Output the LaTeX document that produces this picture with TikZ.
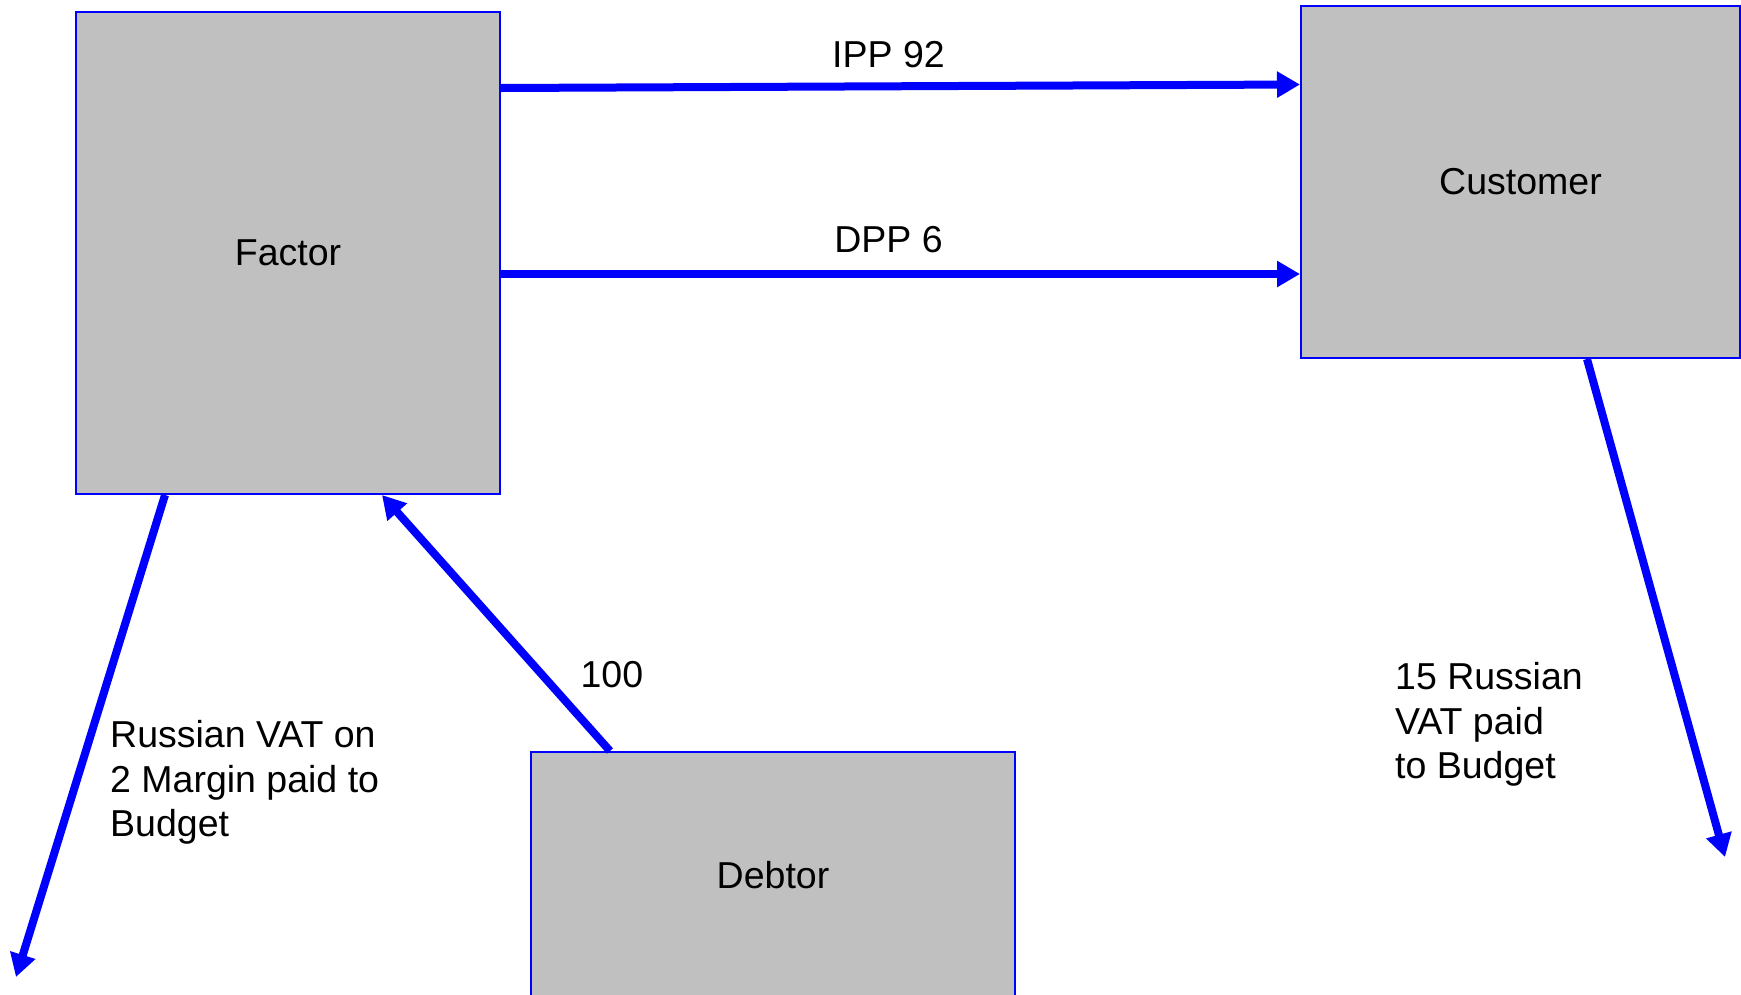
\documentclass[tikz,border=0pt]{standalone}
\usepackage{fontspec}
\setmainfont{Liberation Sans}
\usetikzlibrary{arrows.meta,positioning}
\definecolor{FlowBlue}{HTML}{0000FF}
\definecolor{BoxGrey}{HTML}{C0C0C0}
\tikzset{
  party/.style={draw=FlowBlue,fill=BoxGrey,line width=2pt,rectangle,inner sep=0pt,
    font=\fontsize{37.5}{44.7}\selectfont},
  flow/.style={draw=FlowBlue,line width=8pt,-{Triangle[length=23pt,width=25pt]}},
  flowlabel/.style={inner sep=0pt,font=\fontsize{37.5}{44.7}\selectfont}
}

\begin{document}
\begin{tikzpicture}[x=1pt,y=-1pt]
  \useasboundingbox (0,0) rectangle (1741,994);

  \node[party,minimum width=424pt,minimum height=482pt] (factor) at (288,253) {Factor};
  \node[party,minimum width=439pt,minimum height=352pt] (customer) at (1520.5,182) {Customer};
  \node[party,minimum width=484pt,minimum height=246pt] (debtor) at (773,875) {Debtor};

  \coordinate (factorbudget) at (16,977);
  \coordinate (customerbudget) at (1725,857);

  \draw[flow] ([yshift=-77pt]factor.north east) -- ([yshift=-79.5pt]customer.north west)
    node[flowlabel,above=14pt,pos=0.485] (ipp) {IPP 92};
  \draw[flow] ([yshift=-263pt]factor.north east) -- ([yshift=-269pt]customer.north west)
    node[flowlabel,above=17pt,pos=0.485] (dpp) {DPP 6};
  \draw[flow] ([xshift=80pt]debtor.north west) -- ([xshift=-119pt]factor.south east)
    node[flowlabel,right=35pt,pos=0.3] (payment) {100};

  \draw[flow] ([xshift=90pt]factor.south west) -- (factorbudget);
  \draw[flow] ([xshift=287pt]customer.south west) -- (customerbudget);

  \node[flowlabel,align=left,anchor=north west] (marginvat) at (110,720)
    {Russian VAT on\\2 Margin paid to\\Budget};
  \node[flowlabel,align=left,anchor=north west] (customervat) at (1395,662)
    {15 Russian\\VAT paid\\to Budget};
\end{tikzpicture}
\end{document}
